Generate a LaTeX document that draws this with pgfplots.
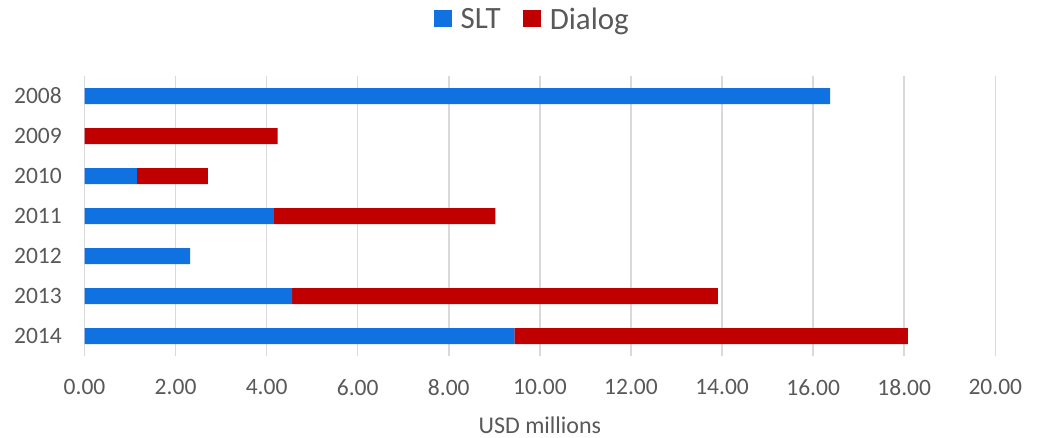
\documentclass[border=0pt]{standalone}
\usepackage{fontspec}
\setmainfont{Carlito}
\usepackage{pgfplots}
\pgfplotsset{compat=1.18}
\definecolor{sltblue}{HTML}{1072E0}
\definecolor{dred}{HTML}{C00000}
\definecolor{txt}{HTML}{595959}
\definecolor{grd}{HTML}{D9D9D9}
\begin{document}
\begin{tikzpicture}[x=1pt,y=1pt]
\path[use as bounding box] (0,0) rectangle (1040,438);
\begin{axis}[
  at={(84.5pt,82pt)}, anchor=south west,
  scale only axis, width=910.8pt, height=280pt,
  xbar stacked, bar width=16pt,
  xmin=0, xmax=20, xtick={0,2,...,20},
  ymin=-0.5, ymax=6.5, y dir=reverse,
  ytick={0,1,2,3,4,5,6},
  yticklabels={2008,2009,2010,2011,2012,2013,2014},
  axis line style={draw=none}, major tick length=0pt,
  xmajorgrids, grid style={grd, line width=1.5pt},
  /pgf/number format/.cd, fixed, fixed zerofill, precision=2, assume math mode=true,
  /pgfplots/.cd,
  tick label style={font=\fontsize{23.5}{28}\selectfont, text=txt, inner sep=0pt},
  xticklabel style={anchor=north, yshift=-23pt},
  yticklabel style={anchor=east, xshift=-22.5pt},
  xlabel={USD millions},
  xlabel style={font=\fontsize{24}{29}\selectfont, text=txt, inner sep=0pt, anchor=center,
    at={(axis description cs:0.5,0)}, yshift=-69pt},
  legend style={at={(0.4905,1)}, anchor=center, yshift=57pt, draw=none,
    font=\fontsize{31}{37}\selectfont, text=txt,
    nodes={inner sep=0pt},
    /tikz/every even column/.append style={column sep=22pt},
    /tikz/every odd column/.append style={column sep=9pt}},
  legend columns=-1,
  legend image code/.code={\path[#1,draw=none] (0pt,-8.5pt) rectangle (18pt,8.5pt);},
]
\addplot[fill=sltblue, draw=none] coordinates {(16.37,0) (0,1) (1.15,2) (4.16,3) (2.32,4) (4.56,5) (9.44,6)};
\addplot[fill=dred, draw=none] coordinates {(0,0) (4.24,1) (1.56,2) (4.86,3) (0,4) (9.35,5) (8.64,6)};
\legend{SLT, Dialog}
\end{axis}
\end{tikzpicture}
\end{document}
